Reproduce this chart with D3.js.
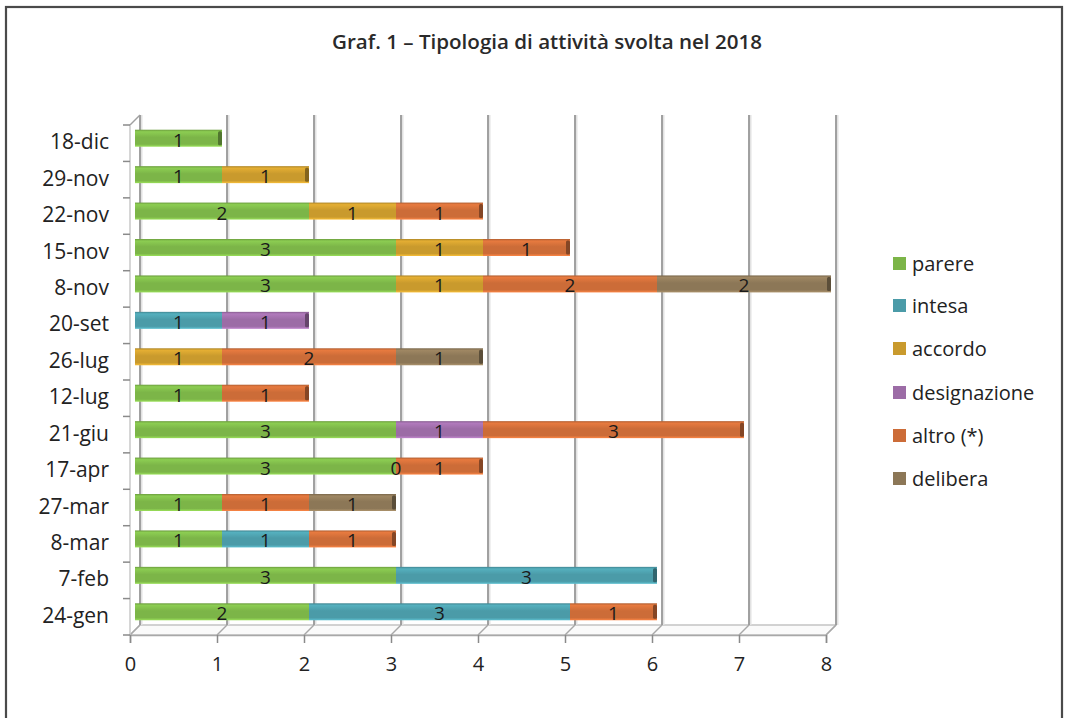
<!DOCTYPE html>
<html><head><meta charset="utf-8">
<script src="https://cdn.jsdelivr.net/npm/d3@7"></script>
<style>body{margin:0;background:#fff}svg{display:block}</style>
</head><body>
<svg id="c" width="1065" height="718"></svg>
<script>
const categories = ["18-dic","29-nov","22-nov","15-nov","8-nov","20-set","26-lug","12-lug","21-giu","17-apr","27-mar","8-mar","7-feb","24-gen"];
const seriesNames = ["parere","intesa","accordo","designazione","altro (*)","delibera"];
const parere       = [1,1,2,3,3,null,null,1,3,3,1,1,3,2];
const intesa       = [null,null,null,null,null,1,null,null,null,null,null,1,3,3];
const accordo      = [null,1,1,1,1,null,1,null,null,0,null,null,null,null];
const designazione = [null,null,null,null,null,1,null,null,1,null,null,null,null,null];
const altro        = [null,null,1,1,2,null,2,1,3,1,1,1,null,1];
const delibera     = [null,null,null,null,2,null,1,null,null,null,1,null,null,null];
const xTicks = [0,1,2,3,4,5,6,7,8];
const colors = ["#7cb548","#4b9ba8","#c99a2d","#9c6ca6","#cc6c38","#8c7757"];

const seriesValues = [parere,intesa,accordo,designazione,altro,delibera];
const svg = d3.select("#c");
const font = "'Open Sans', sans-serif";

// frame
svg.append("rect").attr("x",6).attr("y",7).attr("width",1056).attr("height",730)
  .attr("fill","#fff").attr("stroke","#4a4a4a").attr("stroke-width",2.2);

// title
svg.append("text").attr("x",547).attr("y",49).attr("text-anchor","middle")
  .attr("font-family",font).attr("font-weight",600).attr("font-size",19).attr("fill","#2a2a2a")
  .attr("textLength",430).attr("lengthAdjust","spacingAndGlyphs")
  .text("Graf. 1 – Tipologia di attività svolta nel 2018");

const x = d3.scaleLinear().domain([0,8]).range([130,826]);
const y = d3.scaleBand().domain(categories).range([125,635]);
const dx = 10, dy = -10;

// floor
svg.append("polygon")
  .attr("points",[[x(0),635],[x(8),635],[x(8)+dx,635+dy],[x(0)+dx,635+dy]].map(p=>p.join(",")).join(" "))
  .attr("fill","#fafafa").attr("stroke","#c4c4c4").attr("stroke-width",1.5);
// gridlines on back wall
const g = svg.append("g");
xTicks.forEach(v=>{
  g.append("line").attr("x1",x(v)+dx+1.5).attr("x2",x(v)+dx+1.5).attr("y1",115).attr("y2",625)
    .attr("stroke","#e2e2e2").attr("stroke-width",2);
  g.append("line").attr("x1",x(v)+dx).attr("x2",x(v)+dx).attr("y1",115).attr("y2",625)
    .attr("stroke","#979797").attr("stroke-width",1.8);
  g.append("line").attr("x1",x(v)).attr("x2",x(v)+dx).attr("y1",635).attr("y2",625)
    .attr("stroke","#a8a8a8").attr("stroke-width",1.5);
});
// left wall top diagonal
svg.append("line").attr("x1",x(0)).attr("y1",125).attr("x2",x(0)+dx).attr("y2",115)
  .attr("stroke","#a0a0a0").attr("stroke-width",1.5);
// front y axis line
svg.append("line").attr("x1",x(0)).attr("x2",x(0)).attr("y1",125).attr("y2",635)
  .attr("stroke","#c8c8c8").attr("stroke-width",1.5);
// y ticks at band boundaries
const yb = categories.map(c=>y(c)).concat([635]);
yb.forEach(v=>{
  svg.append("line").attr("x1",x(0)-7).attr("x2",x(0)).attr("y1",v).attr("y2",v)
    .attr("stroke","#8a8a8a").attr("stroke-width",1.5);
});

// x axis
const xAxis = svg.append("g").attr("transform","translate(0,635)")
  .call(d3.axisBottom(x).tickValues(xTicks).tickSize(8).tickPadding(14).tickFormat(d3.format("d")));
xAxis.select(".domain").attr("stroke","#a8a8a8").attr("stroke-width",1.5);
xAxis.selectAll(".tick line").attr("stroke","#8a8a8a").attr("stroke-width",1.5);
xAxis.selectAll(".tick text").attr("font-family",font).attr("font-size",20).attr("fill","#222");

// category labels
svg.append("g").selectAll("text").data(categories).join("text")
  .attr("x",109).attr("y",d=>y(d)+y.bandwidth()/2-2).attr("text-anchor","end")
  .attr("dominant-baseline","central").attr("font-family",font).attr("font-size",21).attr("fill","#222")
  .text(d=>d);

// gradients
const defs = svg.append("defs");
colors.forEach((c,i)=>{
  const gr = defs.append("linearGradient").attr("id","g"+i).attr("x1",0).attr("x2",0).attr("y1",0).attr("y2",1);
  const base = d3.color(c);
  gr.append("stop").attr("offset","0%").attr("stop-color",base.darker(0.4));
  gr.append("stop").attr("offset","12%").attr("stop-color",base.brighter(0.35));
  gr.append("stop").attr("offset","45%").attr("stop-color",c);
  gr.append("stop").attr("offset","85%").attr("stop-color",c);
  gr.append("stop").attr("offset","100%").attr("stop-color",base.brighter(0.6));
});

// bars
const barH = 17;
const bars = svg.append("g");
const labels = svg.append("g");
categories.forEach((cat,ci)=>{
  let acc = 0;
  const cy = y(cat)+y.bandwidth()/2 - 5;
  let lastColor = null;
  seriesValues.forEach((vals,si)=>{
    const v = vals[ci];
    if (v === null || v === undefined) return;
    const x0 = x(acc)+5, x1 = x(acc+v)+5;
    if (v>0) {
      bars.append("rect").attr("x",x0).attr("y",cy-barH/2).attr("width",x1-x0).attr("height",barH)
        .attr("fill","url(#g"+si+")");
      lastColor = colors[si];
    }
    labels.append("text").attr("x",(x0+x1)/2).attr("y",cy+1.5)
      .attr("text-anchor","middle").attr("dominant-baseline","central")
      .attr("font-family",font).attr("font-size",19).attr("fill","#1a1a1a").text(v);
    acc += v;
  });
  if (lastColor) {
    bars.append("rect").attr("x",x(acc)+5-4).attr("y",cy-barH/2+1.5).attr("width",4).attr("height",barH-3)
      .attr("rx",1.5).attr("fill",d3.color(lastColor).darker(1.2));
  }
});

// legend
const legY = [263,305,348,392,435,478];
const leg = svg.append("g");
seriesNames.forEach((n,i)=>{
  leg.append("rect").attr("x",893).attr("y",legY[i]-6).attr("width",13).attr("height",13).attr("fill",colors[i]);
  leg.append("text").attr("x",912).attr("y",legY[i]).attr("dominant-baseline","central")
    .attr("font-family",font).attr("font-size",20).attr("fill","#222").text(n);
});
</script>
</body></html>
